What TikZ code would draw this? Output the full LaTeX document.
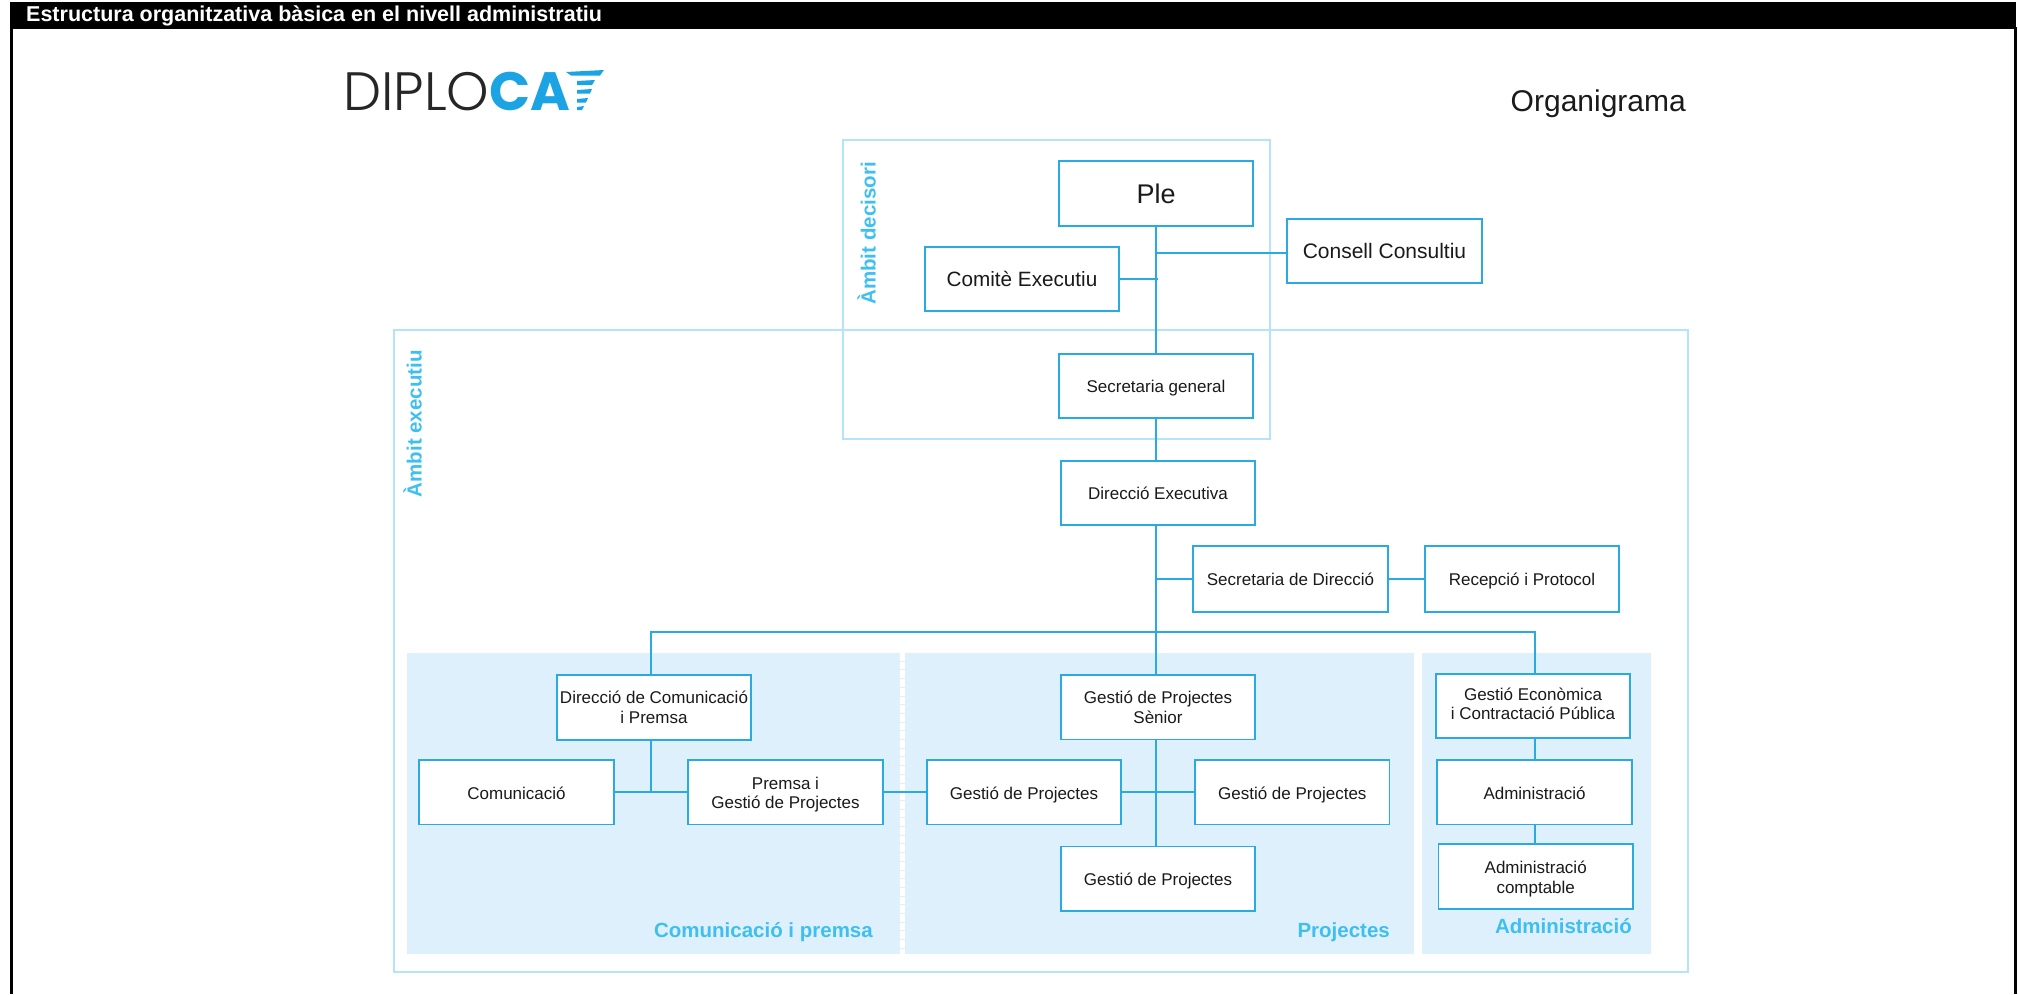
\documentclass[tikz,border=0pt]{standalone}
\usepackage{fontspec}
\setmainfont{Liberation Sans}
\newfontfamily\logolight{Poppins Light}
\newfontfamily\logobold{Poppins}[UprightFont=* Bold]
\definecolor{linec}{HTML}{29ABE2}
\definecolor{outerc}{HTML}{B5E4FA}
\definecolor{panelc}{HTML}{DEF0FC}
\definecolor{labelc}{HTML}{3FBFF0}
\definecolor{logoc}{HTML}{1BA3E3}
\definecolor{textc}{HTML}{1A1A1A}
\newcommand{\twol}[3]{\raisebox{-#1pt}[0pt][0pt]{#2}\\\raisebox{-#1pt}[0pt][0pt]{#3}}
\tikzset{
  boxn/.style={draw=linec,line width=1.7pt,fill=white,text=textc,align=center,inner sep=0pt,minimum width=194.5pt,minimum height=64.5pt,font=\fontsize{17}{19.5}\selectfont},
  single/.style={text height=17.5pt,text depth=4pt},
  bigger/.style={text height=20pt,text depth=5pt},
  conn/.style={draw=linec,line width=1.7pt},
  outerbox/.style={draw=outerc,line width=1.5pt},
  panel/.style={fill=panelc,draw=none},
  sect/.style={text=labelc,inner sep=0pt,font=\fontsize{20.5}{22}\selectfont\bfseries},
  amb/.style={text=labelc,inner sep=0pt,rotate=90,font=\fontsize{20.5}{22}\selectfont\bfseries}
}
\begin{document}
\begin{tikzpicture}[x=1pt,y=-1pt]
\useasboundingbox (0,0) rectangle (2018,994);
% frame
\fill[black] (10,2) rectangle (2016,29);
\fill[black] (10,29) rectangle (13,994);
\fill[black] (2014,27) rectangle (2017.3,994);
\node[anchor=base west,inner sep=0pt,text=white,font=\fontsize{21.5}{23}\selectfont\bfseries] (title) at (26,21) {Estructura organitzativa bàsica en el nivell administratiu};
% logo
\node[anchor=base west,inner sep=0pt,text=black!85,font=\fontsize{54}{56}\logolight] (logoa) at (343,110.5) {DIPLO};
\node[anchor=base west,inner sep=0pt,text=logoc,font=\fontsize{54}{56}\logobold] (logob) at (489,110.5) {CA};
\fill[logoc] (566,72) -- (604,70) -- (600,75.5) -- (571,75.5) -- cycle;
\fill[logoc] (577,81) -- (595,80) -- (592,85) -- (577,85) -- cycle;
\fill[logoc] (577,90) -- (592,89) -- (590,93.5) -- (577,93.5) -- cycle;
\fill[logoc] (577,99) -- (588,98) -- (586,102.5) -- (577,102.5) -- cycle;
\fill[logoc] (577,107) -- (584,106) -- (582,110) -- (577,110) -- cycle;
\node[anchor=base east,inner sep=0pt,text=textc,font=\fontsize{30}{32}\selectfont] (orga) at (1686,111) {Organigrama};
% panels
\fill[panelc] (407,653) rectangle (1413.5,954);
\fill[panelc] (1422,653) rectangle (1651,954);
\draw[white,line width=4.6pt,dash pattern=on 7.7pt off 1pt] (902.5,653) -- (902.5,954);
% scope boxes
\draw[outerbox] (394,330) rectangle (1688,972);
\draw[outerbox] (843,140) rectangle (1270,439);
\node[amb,anchor=south east] (ambd) at (876,162) {Àmbit decisori};
\node[amb,anchor=south east] (ambe) at (422,350) {Àmbit executiu};
\node[sect,anchor=base east] (s1) at (873,937) {Comunicació i premsa};
\node[sect,anchor=base east] (s2) at (1390,937) {Projectes};
\node[sect,anchor=base east] (s3) at (1632,933) {Administració};
% boxes
\node[boxn,minimum height=65pt,text height=25pt,text depth=5.6pt,font=\fontsize{27}{29}\selectfont] (ple) at (1156,193.5) {Ple};
\node[boxn,bigger,font=\fontsize{20.7}{22}\selectfont] (com) at (1022,279) {Comitè Executiu};
\node[boxn,bigger,minimum width=195pt,font=\fontsize{21}{23}\selectfont] (cons) at (1384.5,251) {Consell Consultiu};
\node[boxn,single] (sg) at (1156,386) {Secretaria general};
\node[boxn,single] (de) at (1158,493) {Direcció Executiva};
\node[boxn,single,minimum height=65.4pt] (sd) at (1290.5,579) {Secretaria de Direcció};
\node[boxn,single,minimum height=65.4pt] (rp) at (1522,579) {Recepció i Protocol};
\node[boxn,font=\fontsize{17}{20}\selectfont] (dc) at (654,707.5) {\twol{5.8}{Direcció de Comunicació}{i Premsa}};
\node[boxn,single] (cm) at (516.5,792.3) {Comunicació};
\node[boxn,font=\fontsize{17}{19}\selectfont] (pr) at (785.5,792.3) {\twol{6.8}{Premsa i}{Gestió de Projectes}};
\node[boxn] (gs) at (1158,707.3) {\twol{6.2}{Gestió de Projectes}{Sènior}};
\node[boxn,single] (gl) at (1024,792.3) {Gestió de Projectes};
\node[boxn,single] (gr) at (1292.3,792.3) {Gestió de Projectes};
\node[boxn,single] (gb) at (1158,878.7) {Gestió de Projectes};
\node[boxn,font=\fontsize{17}{18.5}\selectfont] (ge) at (1533,706) {\twol{4.2}{Gestió Econòmica}{i Contractació Pública}};
\node[boxn,single] (ad) at (1534.5,792.3) {Administració};
\node[boxn,font=\fontsize{17}{20}\selectfont] (ac) at (1535.7,876.5) {\twol{6.8}{Administració}{comptable}};
% connectors
\coordinate (sx) at (1155.7,632.3);
\coordinate (bl) at (651,632.3);
\coordinate (br) at (1534.8,632.3);
\draw[conn] (sx |- ple.south) -- (sx |- sg.north);
\draw[conn] (sx |- sg.south) -- (sx |- de.north);
\draw[conn] (sx |- de.south) -- (sx |- gs.north);
\draw[conn] ([yshift=-2pt]cons.west) -- ([yshift=-2pt]cons.west -| sx);
\draw[conn] (com.east) -- ([xshift=2pt]com.east -| sx);
\draw[conn] (sx |- sd.west) -- (sd.west);
\draw[conn] (sd.east) -- (rp.west);
\draw[conn] (bl |- dc.north) -- (bl) -- (br) -- (br |- ge.north);
\draw[conn] (bl |- dc.south) -- (bl |- cm.east);
\draw[conn] (cm.east) -- (pr.west);
\draw[conn] (pr.east) -- (gl.west);
\draw[conn] (gl.east) -- (gr.west);
\draw[conn] (sx |- gs.south) -- (sx |- gb.north);
\draw[conn] (br |- ge.south) -- (br |- ad.north);
\draw[conn] (br |- ad.south) -- (br |- ac.north);
\end{tikzpicture}
\end{document}
